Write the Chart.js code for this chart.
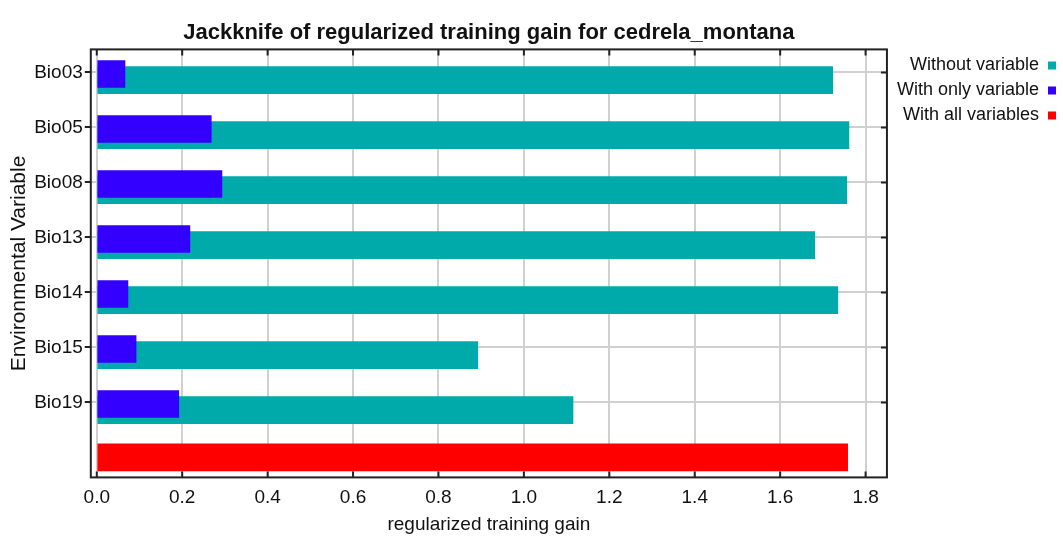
<!DOCTYPE html>
<html>
<head>
<meta charset="utf-8">
<script src="https://cdn.jsdelivr.net/npm/chart.js@4.4.1/dist/chart.umd.min.js"></script>
<style>
  html, body { margin: 0; padding: 0; background: #fff; }
  #wrap { width: 1063px; height: 537px; }
</style>
</head>
<body>
<div id="wrap"><canvas id="jackknife"></canvas></div>
<script>
const variables = ['Bio03', 'Bio05', 'Bio08', 'Bio13', 'Bio14', 'Bio15', 'Bio19'];
const withoutVariable = [1.723, 1.761, 1.756, 1.681, 1.735, 0.892, 1.115];
const withOnlyVariable = [0.066, 0.268, 0.293, 0.218, 0.073, 0.092, 0.192];
const withAllVariables = [1.758];
const xTicks = [0.0, 0.2, 0.4, 0.6, 0.8, 1.0, 1.2, 1.4, 1.6, 1.8];

const FONT = "'Liberation Sans Narrow', 'Liberation Sans', Arial, sans-serif";
const TEAL = '#00aaaa';
const BLUE = '#3300ff';
const RED = '#ff0000';

// the two bars of a variable sit a little apart, blue one on top
const blueShift = 0.03;
const tealShift = 0.14;

// black box round the plot, with the inward ticks maxent draws
const framePlugin = {
  id: 'frame',
  afterDraw(chart) {
    const { ctx, chartArea: a, scales } = chart;
    ctx.save();
    ctx.strokeStyle = '#222';
    ctx.lineWidth = 2;
    ctx.strokeRect(a.left, a.top, a.right - a.left, a.bottom - a.top);
    ctx.beginPath();
    xTicks.forEach(v => {
      const px = scales.x.getPixelForValue(v);
      ctx.moveTo(px, a.top); ctx.lineTo(px, a.top + 6);
      ctx.moveTo(px, a.bottom); ctx.lineTo(px, a.bottom - 6);
    });
    variables.forEach((_, i) => {
      const py = scales.y.getPixelForValue(i);
      ctx.moveTo(a.right, py); ctx.lineTo(a.right - 6, py);
    });
    ctx.stroke();
    ctx.restore();
  }
};

new Chart(document.getElementById('jackknife'), {
  type: 'bar',
  data: {
    datasets: [{
      label: 'Without variable',
      data: withoutVariable.map((v, i) => ({ x: v, y: i + tealShift })),
      backgroundColor: TEAL,
      order: 1
    }, {
      label: 'With only variable',
      data: withOnlyVariable.map((v, i) => ({ x: v, y: i + blueShift })),
      backgroundColor: BLUE,
      order: 0
    }, {
      label: 'With all variables',
      data: withAllVariables.map(v => ({ x: v, y: variables.length })),
      backgroundColor: RED,
      order: 2
    }]
  },
  options: {
    indexAxis: 'y',
    responsive: true,
    maintainAspectRatio: false,
    animation: false,
    grouped: false,
    barThickness: 27,
    layout: { padding: { left: 0, right: 0, top: 0, bottom: 0 } },
    plugins: {
      title: {
        display: true,
        text: 'Jackknife of regularized training gain for cedrela_montana',
        fullSize: false,
        color: '#111',
        font: { family: FONT, size: 22, weight: 'bold' },
        padding: { top: 20, bottom: 3 }
      },
      legend: {
        position: 'right',
        align: 'start',
        fullSize: false,
        rtl: true,
        labels: {
          boxWidth: 8,
          boxHeight: 8,
          padding: 7,
          color: '#111',
          font: { family: FONT, size: 18 },
          sort: (a, b) => a.datasetIndex - b.datasetIndex
        }
      },
      tooltip: { enabled: false }
    },
    scales: {
      x: {
        type: 'linear',
        min: -0.014,
        max: 1.85,
        afterBuildTicks: axis => { axis.ticks = xTicks.map(v => ({ value: v })); },
        ticks: {
          padding: 9,
          color: '#111',
          font: { family: FONT, size: 19 },
          callback: v => v.toFixed(1)
        },
        grid: { color: '#d0d0d0', lineWidth: 2, drawTicks: false, tickLength: 0 },
        border: { display: false },
        title: {
          display: true,
          text: 'regularized training gain',
          color: '#111',
          font: { family: FONT, size: 19 },
          padding: { top: -5, bottom: 1 }
        }
      },
      y: {
        type: 'linear',
        reverse: true,
        offset: false,
        min: -0.418,
        max: 7.364,
        afterBuildTicks: axis => { axis.ticks = variables.map((_, i) => ({ value: i })); },
        ticks: {
          padding: 2,
          autoSkip: false,
          color: '#111',
          font: { family: FONT, size: 19 },
          callback: v => variables[v]
        },
        grid: { offset: false, color: '#d0d0d0', lineWidth: 2, tickColor: '#222', tickLength: 6 },
        border: { display: false },
        title: {
          display: true,
          text: 'Environmental Variable',
          color: '#111',
          font: { family: FONT, size: 21 },
          padding: { top: 7, bottom: 0 }
        }
      }
    }
  },
  plugins: [framePlugin]
});
</script>
</body>
</html>
